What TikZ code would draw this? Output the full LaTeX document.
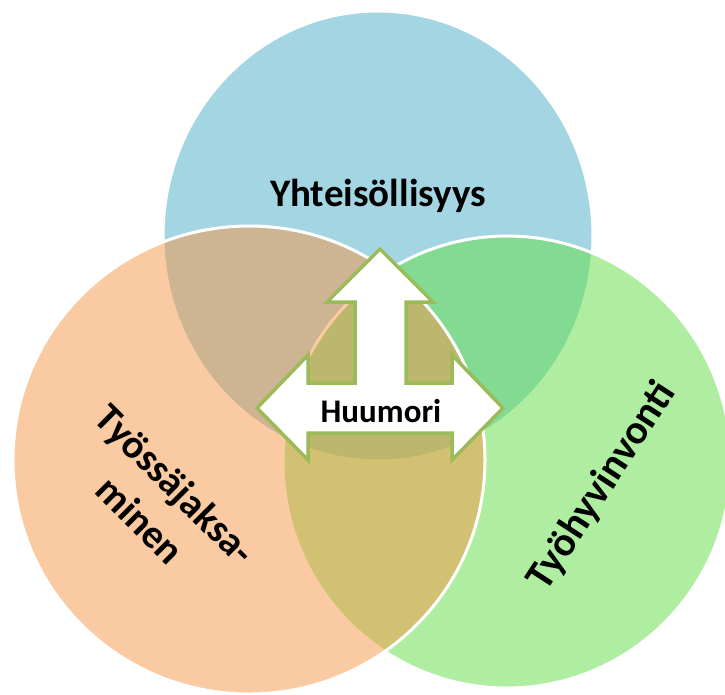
\documentclass[tikz,border=0pt]{standalone}
\usepackage{fontspec}
\setmainfont{Carlito}
\definecolor{vblue}{HTML}{4BACC6}
\definecolor{vgreen}{HTML}{61DF45}
\definecolor{vorange}{HTML}{F79646}
\definecolor{arrowgreen}{HTML}{9BBB59}
\begin{document}
\begin{tikzpicture}[x=1pt,y=-1pt,
  venn/.style={line width=3pt, draw=white, fill opacity=0.5},
  label/.style={font=\bfseries, text=black, align=center, inner sep=0pt},
  quadarrow/.style={fill=white, draw=arrowgreen, line width=3.5pt, line join=miter}]
\useasboundingbox (0,0) rectangle (725,694);
\fill[white] (0,0) rectangle (725,694);
\begin{scope}
\clip (0,0) rectangle (725,694);
\path[venn, fill=vblue] (378,236) ellipse [x radius=215, y radius=225];
\path[venn, fill=vgreen] (507,462) ellipse [x radius=224, y radius=226];
\path[venn, fill=vorange] (249,460) ellipse [x radius=236, y radius=234];
\end{scope}
\path[quadarrow] (380,249) -- (433,302) -- (406,302) -- (406,383) -- (452,383)
  -- (452,355) -- (503,408) -- (452,460) -- (452,433) -- (308,433) -- (308,460)
  -- (257,408) -- (308,355) -- (308,383) -- (355,383) -- (355,302) -- (327,302) -- cycle;
\node[label, font=\bfseries\fontsize{39}{46}\selectfont] (yht) at (378,196) {Yhteisöllisyys};
\node[label, font=\bfseries\fontsize{33}{40}\selectfont] (huu) at (381,411) {Huumori};
\node[label, font=\bfseries\fontsize{40}{50}\selectfont, rotate=-45] (tyo) at (158,502) {Työssäjaksa-\\minen};
\node[label, font=\bfseries\fontsize{41}{49}\selectfont, rotate=57] (hyv) at (602,486) {Työhyvinvonti};
\end{tikzpicture}
\end{document}
